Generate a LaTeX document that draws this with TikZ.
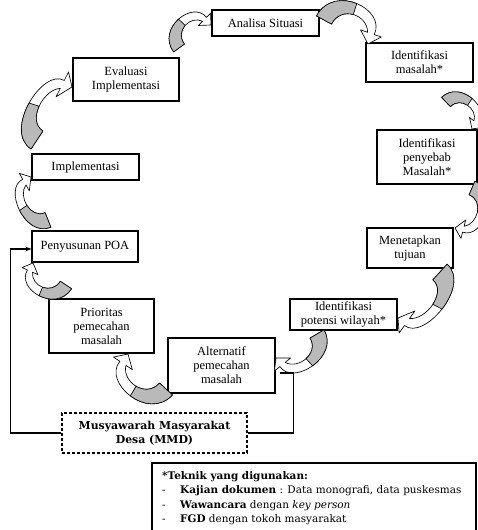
\documentclass[tikz,border=0pt]{standalone}
\usepackage{fontspec}
\setmainfont{Liberation Serif}
\newfontfamily\cambria{DejaVu Serif}
\usetikzlibrary{arrows.meta}
\definecolor{arrowgray}{RGB}{185,185,185}
\tikzset{
  box/.style={draw, line width=1.1pt, align=center, inner sep=1pt,
    font=\fontsize{12.5}{14}\selectfont},
  mmdbox/.style={draw, line width=1.2pt, dash pattern=on 3pt off 2pt, align=center,
    font=\cambria\bfseries\fontsize{10.9}{14}\selectfont},
  arrowline/.style={draw=black, line width=0.65pt, line join=round},
  fbline/.style={draw, line width=1.1pt},
  tektext/.style={inner sep=0pt, align=left, font=\cambria\fontsize{10.45}{14.5}\selectfont}
}
\newcommand\curvedarrow[5]{%
  \pgfmathsetmacro\cdx{#3-#1}%
  \pgfmathsetmacro\cdy{#2-#4}%
  \pgfmathsetmacro\cang{atan2(\cdy,\cdx)}%
  \pgfmathsetmacro\clen{veclen(\cdx,\cdy)}%
  \pgfmathsetmacro\chgt{\clen*#5}%
  \begin{scope}[shift={(#1,530-#2)}, rotate=\cang, xscale=\clen, yscale=\chgt]
    \draw[arrowline, fill=white] (-0.17,0) .. controls (-0.17,0.88) and (1.0,0.92) .. (1.019,0.264)
      -- (1.166,0.293) -- (1,0) -- (0.734,0.207) -- (0.881,0.236)
      .. controls (0.72,0.6) and (0.16,0.5) .. (0.17,0) -- cycle;
    \draw[arrowline, fill=arrowgray] (-0.17,0) .. controls (-0.17,0.44) and (0.1225,0.67) .. (0.4174,0.708)
      -- (0.4614,0.442) .. controls (0.3025,0.4) and (0.165,0.25) .. (0.17,0) -- cycle;
  \end{scope}}
\begin{document}
\begin{tikzpicture}[x=1pt, y=1pt]
\useasboundingbox (0,0) rectangle (477,530);
\fill[white] (0,0) rectangle (477,530);

% boxes
\node[box, minimum width=107, minimum height=26] (ana) at (265.5,507) {Analisa Situasi};
\node[box, minimum width=107, minimum height=39] (idm) at (419.5,467.5) {Identifikasi\\masalah*};
\node[box, minimum width=100, minimum height=54] (pny) at (427,373) {Identifikasi\\penyebab\\Masalah*};
\node[box, minimum width=86, minimum height=40] (tuj) at (410,282) {Menetapkan\\tujuan};
\node[box, minimum width=107, minimum height=31] (pot) at (343.5,215.5) {Identifikasi\\potensi wilayah*};
\node[box, minimum width=107, minimum height=55] (alt) at (221.5,164.5) {Alternatif\\pemecahan\\masalah};
\node[box, minimum width=105, minimum height=54] (pri) at (101.5,204) {Prioritas\\pemecahan\\masalah};
\node[box, minimum width=106, minimum height=31] (poa) at (85,283.5) {Penyusunan POA};
\node[box, minimum width=107, minimum height=26] (imp) at (85.5,363) {Implementasi};
\node[box, minimum width=106, minimum height=43] (eva) at (126,450.5) {Evaluasi\\Implementasi};
\node[mmdbox, minimum width=185, minimum height=40] (mmd) at (154.5,97) {Musyawarah Masyarakat\\Desa (MMD)};

% curved block arrows (tail x, tail y, tip x, tip y in image pixels; bulge)
\curvedarrow{324}{20}{368}{44}{0.85}
\curvedarrow{446}{102}{472}{129}{0.8}
\curvedarrow{472}{188}{455}{228}{0.75}
\curvedarrow{440}{272}{398}{318}{0.6}
\curvedarrow{317}{334}{276}{358}{0.75}
\curvedarrow{166}{389}{128}{354}{0.8}
\curvedarrow{66}{285}{33}{263}{0.85}
\curvedarrow{48}{220}{31}{177}{0.7}
\curvedarrow{37}{140}{72}{87}{0.6}
\curvedarrow{179}{48}{211}{25}{0.85}

% feedback lines
\coordinate (fb) at ([xshift=4pt,yshift=-7.5pt]alt.east);
\draw[fbline] (fb) -- ++(14,0) |- (mmd.east);
\draw[fbline, -{Stealth[length=6pt,width=4.5pt]}] (mmd.west) -- ++(-51,0) |- ([yshift=-2.5pt]poa.west);

% technique box
\node[tektext, anchor=north west] (tek) at (162,61) {%
  \begin{tabular}{@{}p{18pt}@{}l@{}}
  \multicolumn{2}{@{}l@{}}{\textbf{*Teknik yang digunakan:}}\\
  - & \textbf{Kajian dokumen} : Data monografi, data puskesmas\\
  - & \textbf{Wawancara} dengan \textit{key person}\\
  - & \textbf{FGD} dengan tokoh masyarakat
  \end{tabular}};
\draw[line width=1.1pt] (152,67) rectangle (476,-10);
\end{tikzpicture}
\end{document}
